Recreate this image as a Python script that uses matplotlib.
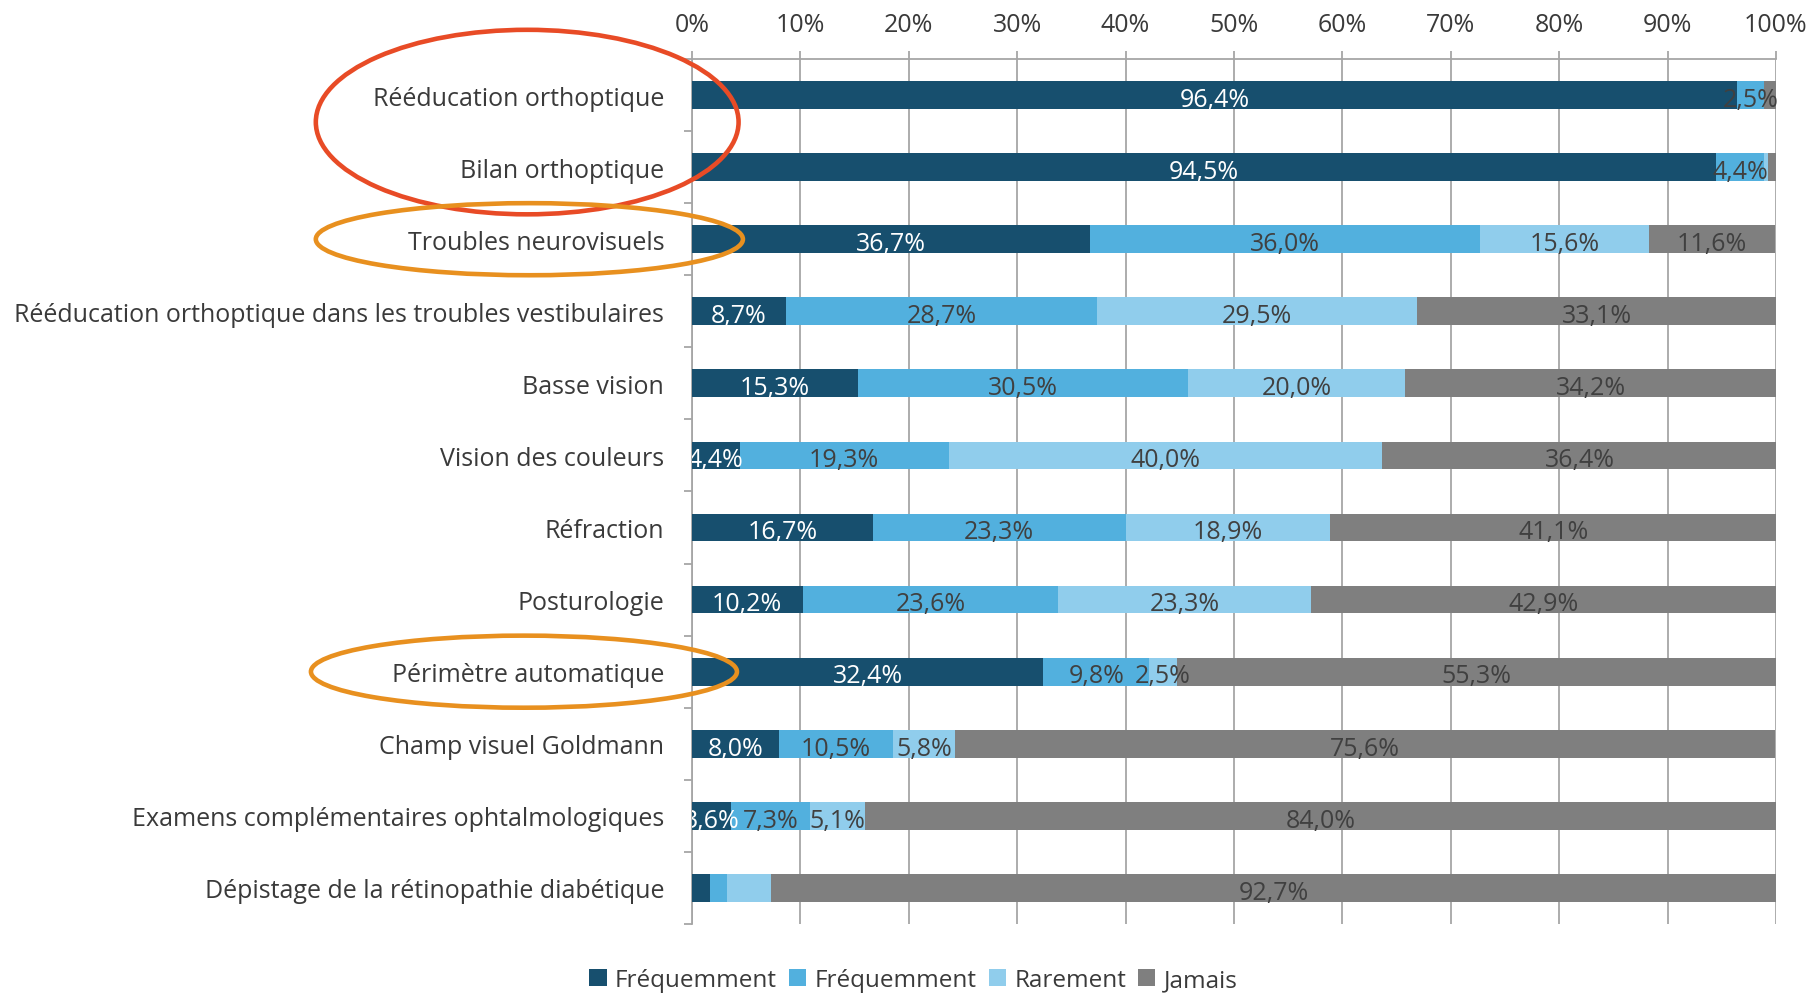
# bar chart: frequency of orthoptic activities
import numpy as np
import matplotlib.pyplot as plt
from matplotlib.patches import Ellipse
from matplotlib.transforms import blended_transform_factory

plt.rcParams['font.family'] = ['Open Sans', 'DejaVu Sans']

categories = ['Rééducation orthoptique', 'Bilan orthoptique', 'Troubles neurovisuels',
              'Rééducation orthoptique dans les troubles vestibulaires', 'Basse vision',
              'Vision des couleurs', 'Réfraction', 'Posturologie', 'Périmètre automatique',
              'Champ visuel Goldmann', 'Examens complémentaires ophtalmologiques',
              'Dépistage de la rétinopathie diabétique']
series_names = ['Fréquemment', 'Fréquemment', 'Rarement', 'Jamais']
tres_freq = [96.4, 94.5, 36.7, 8.7, 15.3, 4.4, 16.7, 10.2, 32.4, 8.0, 3.6, 1.7]
freq = [2.5, 4.4, 36.0, 28.7, 30.5, 19.3, 23.3, 23.6, 9.8, 10.5, 7.3, 1.5]
rarement = [0.0, 0.4, 15.6, 29.5, 20.0, 40.0, 18.9, 23.3, 2.5, 5.8, 5.1, 4.1]
jamais = [1.1, 0.7, 11.6, 33.1, 34.2, 36.4, 41.1, 42.9, 55.3, 75.6, 84.0, 92.7]
# labels left off in the original for the last row's small segments
hidden = [(11, 0), (11, 1), (11, 2)]

colors = ['#174f6e', '#52b0de', '#90cdec', '#7f7f7f']
label_colors = ['white', '#404040', '#404040', '#404040']
grid_c = '#a6a6a6'
txt_c = '#3a3a3a'
fs = 18

fig = plt.figure(figsize=(18.2, 9.95), dpi=100)
ax = fig.add_axes([0.3802, 0.0704, 0.5956, 0.8693])

y = np.arange(len(categories))
left = np.zeros(len(categories))
for k, vals in enumerate([tres_freq, freq, rarement, jamais]):
    vals = np.array(vals) / 100
    ax.barh(y, vals, left=left, height=0.385, color=colors[k], label=series_names[k], zorder=3)
    for i, v in enumerate(vals):
        if v * 100 >= 2.5 and (i, k) not in hidden:
            ax.text(left[i] + v / 2, y[i] + 0.06, f'{v*100:.1f}'.replace('.', ',') + '%',
                    ha='center', va='center', fontsize=fs, color=label_colors[k],
                    zorder=4, clip_on=(k == 0))
    left += vals

ax.set_xlim(0, 1)
ax.set_ylim(len(categories) - 0.5, -0.5)
ax.xaxis.tick_top()
ax.set_xticks(np.arange(0, 1.01, 0.1))
ax.set_xticklabels([f'{int(round(t*100))}%' for t in np.arange(0, 1.01, 0.1)])
ax.tick_params(axis='x', length=6, width=1.3, color=grid_c, pad=10, labelsize=fs, labelcolor=txt_c)
ax.set_yticks(y)
ax.set_yticklabels(categories)
ax.set_yticks(np.arange(-0.5, len(categories)), minor=True)
ax.tick_params(axis='y', which='major', length=0, pad=20, labelsize=fs, labelcolor=txt_c)
ax.tick_params(axis='y', which='minor', length=6, width=1.3, color=grid_c)
ax.grid(axis='x', color=grid_c, linewidth=1.3, zorder=0)
for s in ['right', 'bottom']:
    ax.spines[s].set_visible(False)
for s in ['left', 'top']:
    ax.spines[s].set_color(grid_c)
    ax.spines[s].set_linewidth(1.3)

# highlight ellipses around some categories
tr = blended_transform_factory(ax.transAxes, ax.transData)
ax.add_patch(Ellipse((-0.152, 0.375), 0.39, 2.56, transform=tr, fill=False,
                     edgecolor='#e84b26', linewidth=3.3, clip_on=False, zorder=5))
ax.add_patch(Ellipse((-0.150, 2.0), 0.394, 1.0, transform=tr, fill=False,
                     edgecolor='#e8901f', linewidth=3.3, clip_on=False, zorder=5))
ax.add_patch(Ellipse((-0.155, 8.0), 0.393, 1.0, transform=tr, fill=False,
                     edgecolor='#e8901f', linewidth=3.3, clip_on=False, zorder=5))

fig.legend(loc='center', bbox_to_anchor=(0.502, 0.014), ncol=4, frameon=False,
           fontsize=17.5, handlelength=0.7, handleheight=0.7, handletextpad=0.35,
           columnspacing=0.5, labelcolor=txt_c)

plt.savefig('out.png', dpi=100)
